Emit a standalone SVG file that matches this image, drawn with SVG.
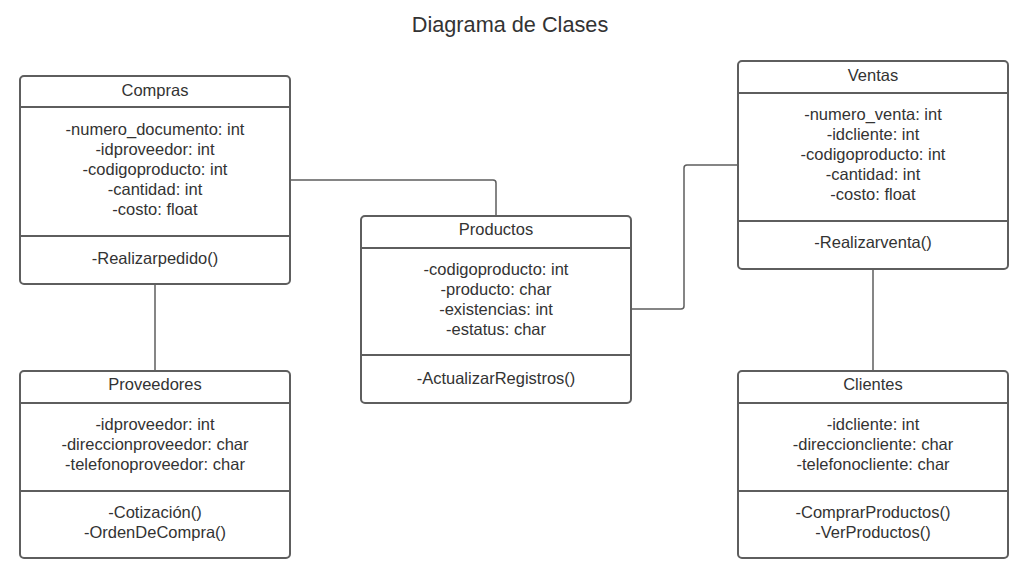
<svg xmlns="http://www.w3.org/2000/svg" width="1028" height="571" viewBox="0 0 1028 571">
<style>
.box{fill:#fff;stroke:#5e5e5e;stroke-width:2}
.sep{stroke:#5e5e5e;stroke-width:2}
.t{font-family:"Liberation Sans",Arial,sans-serif;font-size:16.5px;fill:#333;text-anchor:middle}
.title{font-family:"Liberation Sans",Arial,sans-serif;font-size:21.7px;fill:#333;text-anchor:middle}
.c{fill:none;stroke:#5e5e5e;stroke-width:1.5}
</style>
<rect width="1028" height="571" fill="#fff"/>
<text class="title" x="510" y="32">Diagrama de Clases</text>
<g id="connectors">
<path class="c" d="M290 180 H493 Q496 180 496 183 V216"/>
<path class="c" d="M631 309 H681 Q684 309 684 306 V168 Q684 165 687 165 H738"/>
<path class="c" d="M155 284 V371"/>
<path class="c" d="M873 269 V371"/>
</g>
<g id="compras">
<rect class="box" x="20" y="76" width="270" height="208" rx="4"/>
<line class="sep" x1="20" y1="107" x2="290" y2="107"/>
<line class="sep" x1="20" y1="236" x2="290" y2="236"/>
<text class="t" x="155" y="96">Compras</text>
<text class="t" x="155" y="135">-numero_documento: int</text>
<text class="t" x="155" y="155">-idproveedor: int</text>
<text class="t" x="155" y="175">-codigoproducto: int</text>
<text class="t" x="155" y="195">-cantidad: int</text>
<text class="t" x="155" y="215">-costo: float</text>
<text class="t" x="155" y="264">-Realizarpedido()</text>
</g>
<g id="productos">
<rect class="box" x="361" y="216" width="270" height="187" rx="4"/>
<line class="sep" x1="361" y1="248" x2="631" y2="248"/>
<line class="sep" x1="361" y1="355" x2="631" y2="355"/>
<text class="t" x="496" y="235">Productos</text>
<text class="t" x="496" y="275">-codigoproducto: int</text>
<text class="t" x="496" y="295">-producto: char</text>
<text class="t" x="496" y="315">-existencias: int</text>
<text class="t" x="496" y="335">-estatus: char</text>
<text class="t" x="496" y="384">-ActualizarRegistros()</text>
</g>
<g id="ventas">
<rect class="box" x="738" y="61" width="270" height="208" rx="4"/>
<line class="sep" x1="738" y1="93" x2="1008" y2="93"/>
<line class="sep" x1="738" y1="221" x2="1008" y2="221"/>
<text class="t" x="873" y="81">Ventas</text>
<text class="t" x="873" y="120">-numero_venta: int</text>
<text class="t" x="873" y="140">-idcliente: int</text>
<text class="t" x="873" y="160">-codigoproducto: int</text>
<text class="t" x="873" y="180">-cantidad: int</text>
<text class="t" x="873" y="200">-costo: float</text>
<text class="t" x="873" y="248">-Realizarventa()</text>
</g>
<g id="proveedores">
<rect class="box" x="20" y="371" width="270" height="187" rx="4"/>
<line class="sep" x1="20" y1="403" x2="290" y2="403"/>
<line class="sep" x1="20" y1="491" x2="290" y2="491"/>
<text class="t" x="155" y="390">Proveedores</text>
<text class="t" x="155" y="430">-idproveedor: int</text>
<text class="t" x="155" y="450">-direccionproveedor: char</text>
<text class="t" x="155" y="470">-telefonoproveedor: char</text>
<text class="t" x="155" y="518">-Cotización()</text>
<text class="t" x="155" y="538">-OrdenDeCompra()</text>
</g>
<g id="clientes">
<rect class="box" x="738" y="371" width="270" height="187" rx="4"/>
<line class="sep" x1="738" y1="403" x2="1008" y2="403"/>
<line class="sep" x1="738" y1="491" x2="1008" y2="491"/>
<text class="t" x="873" y="390">Clientes</text>
<text class="t" x="873" y="430">-idcliente: int</text>
<text class="t" x="873" y="450">-direccioncliente: char</text>
<text class="t" x="873" y="470">-telefonocliente: char</text>
<text class="t" x="873" y="518">-ComprarProductos()</text>
<text class="t" x="873" y="538">-VerProductos()</text>
</g>
</svg>
